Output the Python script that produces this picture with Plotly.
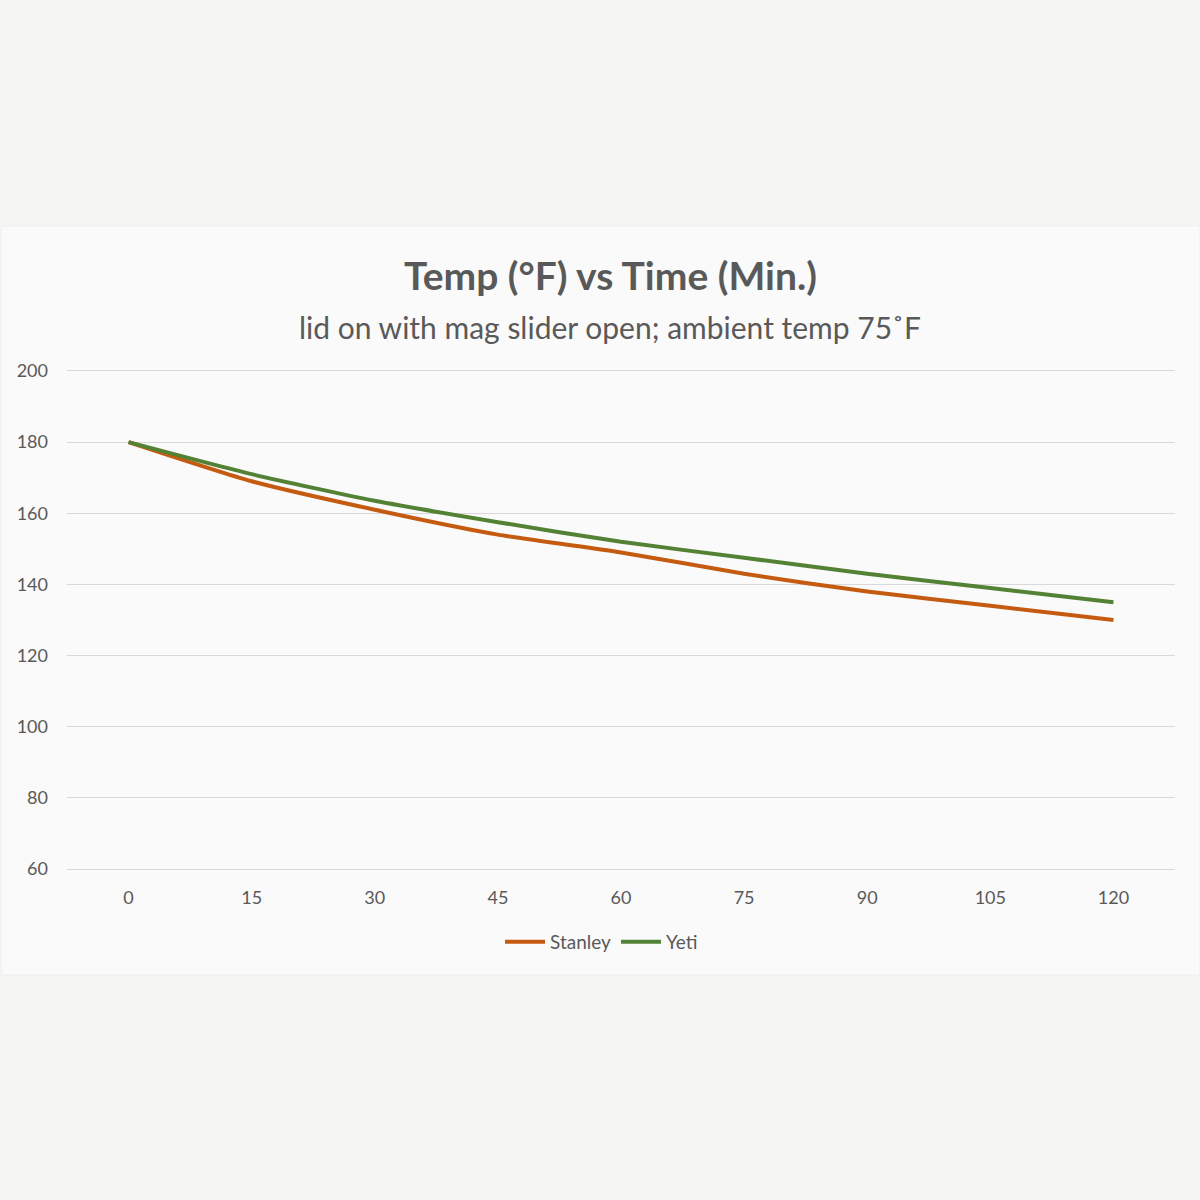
import plotly.graph_objects as go

time_min = ["0", "15", "30", "45", "60", "75", "90", "105", "120"]
stanley = [180, 169, 161, 154, 149, 143, 138, 134, 130]
yeti = [180, 171, 163.5, 157.5, 152, 147.5, 143, 139, 135]
y_ticks = [60, 80, 100, 120, 140, 160, 180, 200]

FONT = "Lato"
TXT = "#595959"

fig = go.Figure()
fig.add_trace(go.Scatter(x=time_min, y=stanley, name="Stanley", mode="lines",
                         line=dict(color="#C55A11", width=4, shape="spline", smoothing=0.6)))
fig.add_trace(go.Scatter(x=time_min, y=yeti, name="Yeti", mode="lines",
                         line=dict(color="#548235", width=4, shape="spline", smoothing=0.6)))

L, R, T, B = 67, 1175, 369, 871
W = R - L
H = B - T

def px(x):
    return (x - L) / W

def py(y):
    return (B - y) / H

fig.update_layout(
    width=1200, height=1200,
    margin=dict(l=L, r=1200 - R, t=T, b=1200 - B),
    paper_bgcolor="#f5f5f1",
    plot_bgcolor="rgba(0,0,0,0)",
    font=dict(family=FONT, color=TXT, size=18),
    showlegend=True,
    legend=dict(orientation="h", x=px(500), xanchor="left", y=py(942), yanchor="middle",
                font=dict(size=19, color=TXT), bgcolor="rgba(0,0,0,0)",
                itemwidth=40, tracegroupgap=0),
    xaxis=dict(type="category", range=[-0.5, 8.5], showgrid=False, zeroline=False, showline=False,
               ticks="", tickfont=dict(size=18, color=TXT), ticklabelstandoff=14),
    yaxis=dict(range=[59.44, 200.56], tickvals=y_ticks, showgrid=True, gridcolor="#d9d9d9",
               gridwidth=1, zeroline=False, showline=False, ticks="",
               tickfont=dict(size=18, color=TXT), ticklabelstandoff=18),
    shapes=[dict(type="rect", xref="paper", yref="paper",
                 x0=px(1), x1=px(1200), y0=py(975), y1=py(226),
                 fillcolor="#fafafa", line=dict(color="#eeeeee", width=1), layer="below")],
    annotations=[
        dict(text="<b>Temp (°F) vs Time (Min.)</b>", xref="paper", yref="paper",
             x=px(610), y=py(275), xanchor="center", yanchor="middle", showarrow=False,
             font=dict(size=39, color=TXT, family=FONT)),
        dict(text="lid on with mag slider open; ambient temp 75˚F", xref="paper", yref="paper",
             x=px(610), y=py(327), xanchor="center", yanchor="middle", showarrow=False,
             font=dict(size=30, color=TXT, family=FONT)),
    ],
    hovermode=False,
)

fig.write_html("out.html")
